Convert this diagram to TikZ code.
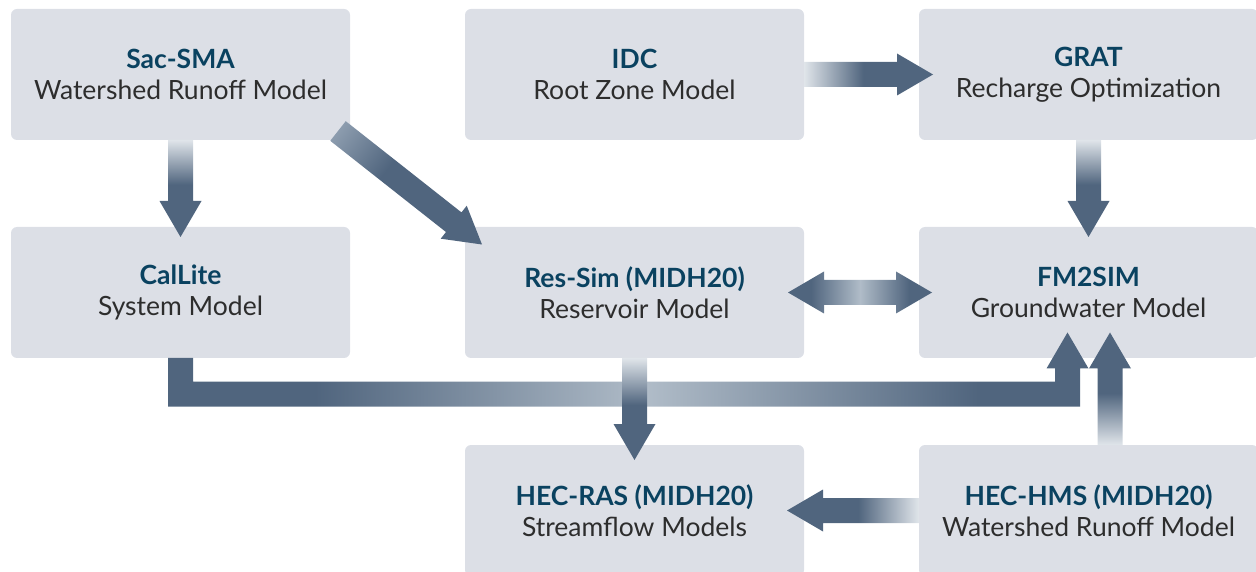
\documentclass[tikz,border=0pt]{standalone}
\usepackage{fontspec}
\setmainfont{Lato}
\usetikzlibrary{positioning,calc}

\definecolor{boxfill}{RGB}{220,223,230}
\definecolor{titleblue}{RGB}{10,66,96}
\definecolor{subgray}{RGB}{45,45,45}
\definecolor{ardark}{RGB}{80,101,126}
\definecolor{armid}{RGB}{176,188,200}
\definecolor{artail}{RGB}{140,156,174}
\definecolor{arlight}{RGB}{224,229,234}

%% shadings of the fat arrows
\pgfdeclarehorizontalshading{fade}{100bp}{color(0bp)=(arlight); color(25bp)=(arlight); color(48bp)=(ardark); color(100bp)=(ardark)}
\pgfdeclarehorizontalshading{fadediag}{100bp}{color(0bp)=(artail); color(25bp)=(artail); color(42bp)=(ardark); color(100bp)=(ardark)}
\pgfdeclarehorizontalshading{bothdark}{100bp}{color(0bp)=(ardark); color(33bp)=(ardark); color(50bp)=(armid); color(67bp)=(ardark); color(100bp)=(ardark)}
\pgfdeclarehorizontalshading{elbowfade}{100bp}{color(0bp)=(ardark); color(33bp)=(ardark); color(51bp)=(armid); color(69bp)=(ardark); color(100bp)=(ardark)}

%% arrow sizes
\newcommand\arsw{12.5pt}
\newcommand\arhw{21pt}
\newcommand\arhl{36pt}

\newcommand\mtitle[1]{{\bfseries\color{titleblue}#1}}

% fat arrow from #2 to #3
\newcommand\fatarrow[3][fade]{%
  \path let \p1=($(#3)-(#2)$) in \pgfextra{%
    \pgfmathparse{atan2(\y1,\x1)}\xdef\arang{\pgfmathresult}%
    \pgfmathparse{veclen(\x1,\y1)}\xdef\arlen{\pgfmathresult}};
  \shade[shading=#1,transform canvas={shift={(#2)},rotate=\arang}]
    (0,-\arsw) -- (\arlen pt-\arhl,-\arsw) -- (\arlen pt-\arhl,-\arhw) -- (\arlen pt,0)
    -- (\arlen pt-\arhl,\arhw) -- (\arlen pt-\arhl,\arsw) -- (0,\arsw) -- cycle;
}
% fat arrow with two heads
\newcommand\fatdarrow[3][bothdark]{%
  \path let \p1=($(#3)-(#2)$) in \pgfextra{%
    \pgfmathparse{atan2(\y1,\x1)}\xdef\arang{\pgfmathresult}%
    \pgfmathparse{veclen(\x1,\y1)}\xdef\arlen{\pgfmathresult}};
  \shade[shading=#1,transform canvas={shift={(#2)},rotate=\arang}]
    (0,0) -- (\arhl,-\arhw) -- (\arhl,-\arsw) -- (\arlen pt-\arhl,-\arsw) -- (\arlen pt-\arhl,-\arhw)
    -- (\arlen pt,0) -- (\arlen pt-\arhl,\arhw) -- (\arlen pt-\arhl,\arsw) -- (\arhl,\arsw)
    -- (\arhl,\arhw) -- cycle;
}

\begin{document}
\begin{tikzpicture}[
  box/.style={fill=boxfill, rounded corners=6pt, minimum width=339pt, minimum height=131pt,
    inner sep=0pt, outer sep=0pt, align=center, text=subgray,
    font=\fontsize{26.5}{31}\selectfont},
  node distance=87pt and 115pt]
  \useasboundingbox (0,0) rectangle (1256pt,571pt);
  %% 第一行
  \node[box] (sac) at (180.5pt,496.5pt) {\mtitle{Sac-SMA}\\Watershed Runoff Model};
  \node[box, right=of sac] (idc) {\mtitle{IDC}\\Root Zone Model};
  \node[box, right=of idc] (grat) {\mtitle{GRAT}\\Recharge Optimization};
  %% 第二行
  \node[box, below=of sac] (call) {\mtitle{CalLite}\\System Model};
  \node[box, below=of idc] (res) {\mtitle{Res-Sim (MIDH20)}\\Reservoir Model};
  \node[box, below=of grat] (fm2) {\mtitle{FM2SIM}\\Groundwater Model};
  %% 第三行
  \node[box, below=of res] (ras) {\mtitle{HEC-RAS (MIDH20)}\\Streamflow Models};
  \node[box, below=of fm2] (hms) {\mtitle{HEC-HMS (MIDH20)}\\Watershed Runoff Model};

  %% arrow ends
  \coordinate (sacd) at ($(sac.south east)+(-12pt,9pt)$);
  \coordinate (callt) at ($(call.north)+(0,-10pt)$);
  \coordinate (rest) at ($(res.north west)+(17pt,-17.5pt)$);
  \coordinate (gratt) at ($(grat.west)+(14pt,0)$);
  \coordinate (fm2t) at ($(fm2.north)+(0,-10pt)$);
  \coordinate (resr) at ($(res.east)+(-16pt,0)$);
  \coordinate (fm2l) at ($(fm2.west)+(13pt,0)$);
  \coordinate (rast) at ($(ras.north)+(0,-15pt)$);
  \coordinate (rasr) at ($(ras.east)+(-17pt,0)$);
  \coordinate (hmst) at ($(fm2.south)+(21.5pt,25.5pt)$);
  \coordinate (hmsb) at (hmst |- hms.north);
  %% elbow: CalLite -> FM2SIM
  \coordinate (eb) at ($(call.south)+(0,-36pt)$);
  \coordinate (et) at ($(fm2.south)+(-21pt,25.5pt)$);
  \shade[shading=elbowfade] ($(call.south)+(-\arsw,0)$) -- ($(eb)+(-\arsw,-\arsw)$)
    -- ($(et|-eb)+(\arsw,-\arsw)$) -- ($(et)+(\arsw,-\arhl)$) -- ($(et)+(\arhw,-\arhl)$)
    -- (et) -- ($(et)+(-\arhw,-\arhl)$) -- ($(et)+(-\arsw,-\arhl)$)
    -- ($(et|-eb)+(-\arsw,\arsw)$) -- ($(eb)+(\arsw,\arsw)$) -- ($(call.south)+(\arsw,0)$) -- cycle;

  %% fat arrows
  \fatarrow{sac.south}{callt}
  \fatarrow[fadediag]{sacd}{rest}
  \fatarrow{idc.east}{gratt}
  \fatarrow{grat.south}{fm2t}
  \fatdarrow{resr}{fm2l}
  \fatarrow{res.south}{rast}
  \fatarrow{hms.west}{rasr}
  \fatarrow{hmsb}{hmst}
\end{tikzpicture}
\end{document}
